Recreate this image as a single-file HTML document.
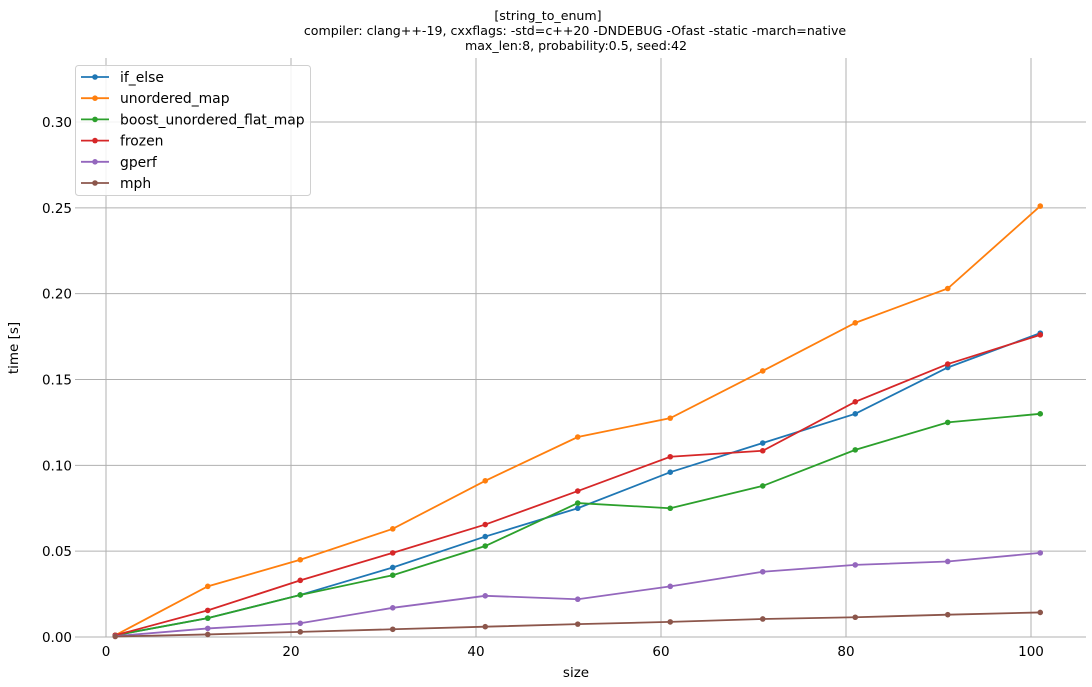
<!DOCTYPE html>
<html><head><meta charset="utf-8"><style>
body{margin:0;background:#fff;font-family:"DejaVu Sans","Liberation Sans",sans-serif;}
svg text{font-family:"DejaVu Sans","Liberation Sans",sans-serif;}
</style></head><body>
<svg id="chart" width="1092" height="683" xmlns="http://www.w3.org/2000/svg">
<g id="title" font-size="12.6" text-anchor="middle" fill="#000">
<text x="548" y="20">[string_to_enum]</text>
<text x="575" y="35">compiler: clang++-19, cxxflags: -std=c++20 -DNDEBUG -Ofast -static -march=native</text>
<text x="576" y="50">max_len:8, probability:0.5, seed:42</text>
</g>
<g id="grid"></g><g id="axes"></g><g id="series"></g><g id="legend"></g>
</svg>
<script>
const xValues=[1,11,21,31,41,51,61,71,81,91,101];
const seriesNames=["if_else","unordered_map","boost_unordered_flat_map","frozen","gperf","mph"];
const seriesColors=["#1f77b4","#ff7f0e","#2ca02c","#d62728","#9467bd","#8c564b"];
const ifElse=[0.001,0.011,0.0245,0.0405,0.0585,0.075,0.096,0.113,0.130,0.157,0.177];
const unorderedMap=[0.001,0.0295,0.045,0.063,0.091,0.1165,0.1275,0.155,0.183,0.203,0.251];
const boostFlat=[0.001,0.011,0.0245,0.036,0.053,0.078,0.075,0.088,0.109,0.125,0.130];
const frozen=[0.001,0.0155,0.033,0.049,0.0655,0.085,0.105,0.1085,0.137,0.159,0.176];
const gperf=[0.0005,0.005,0.008,0.017,0.024,0.022,0.0295,0.038,0.042,0.044,0.049];
const mph=[0.0003,0.0015,0.003,0.0045,0.006,0.0075,0.0088,0.0105,0.0115,0.013,0.0143];
const xTicks=[0,20,40,60,80,100];
const yTicks=[0,0.05,0.10,0.15,0.20,0.25,0.30];
const allSeries=[ifElse,unorderedMap,boostFlat,frozen,gperf,mph];
const NS="http://www.w3.org/2000/svg";
const L=75,R=1086,T=58,B=637;
const xs=v=>106+v*9.25;
const ys=v=>637-v*1716.7;
function mk(tag,attrs,parent){const e=document.createElementNS(NS,tag);for(const k in attrs)e.setAttribute(k,attrs[k]);parent.appendChild(e);return e;}
const grid=document.getElementById('grid'),axes=document.getElementById('axes'),ser=document.getElementById('series'),leg=document.getElementById('legend');
xTicks.forEach(t=>{
 const l=mk('line',{x1:xs(t),x2:xs(t),y1:T,y2:B,stroke:'#b0b0b0','stroke-width':1},grid);
 
 
 const tx=mk('text',{x:xs(t),y:B+19,'text-anchor':'middle','font-size':13.5},axes);tx.textContent=t;
 
 
});
yTicks.forEach(t=>{
 const l=mk('line',{x1:L,x2:R,y1:ys(t),y2:ys(t),stroke:'#b0b0b0','stroke-width':1},grid);
 
 
 const tx=mk('text',{x:L-3,y:ys(t)+5,'text-anchor':'end','font-size':13.5},axes);tx.textContent=t.toFixed(2);
 
 
});
const xl=mk('text',{x:576,y:677,'text-anchor':'middle','font-size':13.5},axes);xl.textContent='size';


const yl=mk('text',{x:18,y:348,'text-anchor':'middle','font-size':13.5,transform:'rotate(-90 18 348)'},axes);yl.textContent='time [s]';


allSeries.forEach((vals,i)=>{
 const g=mk('g',{},ser);
 
 
 const pts=vals.map((v,j)=>xs(xValues[j])+','+ys(v)).join(' ');
 mk('polyline',{points:pts,fill:'none',stroke:seriesColors[i],'stroke-width':1.8},g);
 vals.forEach((v,j)=>{const c=mk('circle',{cx:xs(xValues[j]),cy:ys(v),r:2.8,fill:seriesColors[i]},g);
  
  });
});
const box=mk('rect',{x:75.5,y:65.5,width:235,height:130,rx:3,fill:'#fff','fill-opacity':0.85,stroke:'#d0d0d0'},leg);


seriesNames.forEach((n,i)=>{
 const y=77+i*21.2;
 const g=mk('g',{},leg);
 
 
 mk('line',{x1:81,x2:109,y1:y,y2:y,stroke:seriesColors[i],'stroke-width':1.8},g);
 mk('circle',{cx:95,cy:y,r:2.8,fill:seriesColors[i]},g);
 const t=mk('text',{x:120,y:y+5,'font-size':13.9},g);t.textContent=n;
});
</script>
</body></html>
